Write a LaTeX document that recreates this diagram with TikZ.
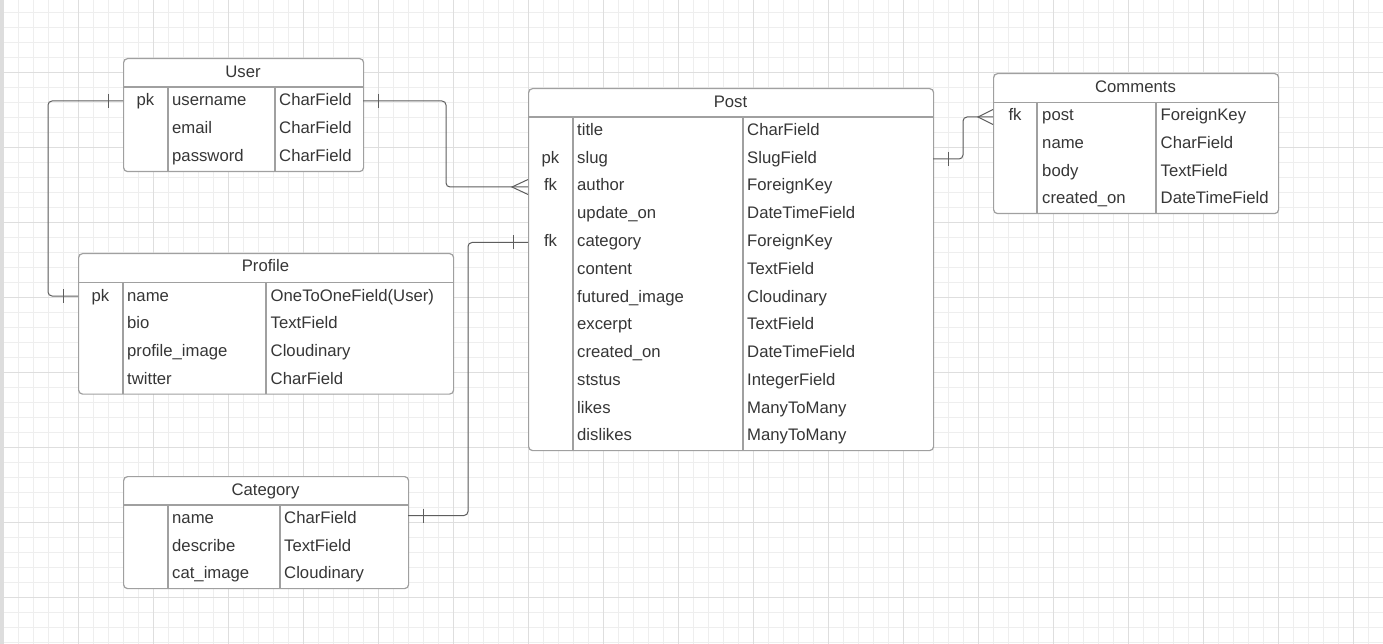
\documentclass[tikz,border=0pt]{standalone}
\usepackage{fontspec}
\setmainfont{Liberation Sans}
\definecolor{gridminor}{HTML}{EEEEEE}
\definecolor{gridmajor}{HTML}{DEDEDE}
\definecolor{leftbar}{HTML}{DDDDDD}
\definecolor{tblc}{HTML}{A0A0A0}
\definecolor{linec}{HTML}{5E5E5E}
\definecolor{txtc}{HTML}{363636}
\tikzset{
  tbl/.style={draw=tblc, line width=1.2pt, rounded corners=4pt, fill=white, inner sep=0pt, anchor=north west},
  tblline/.style={draw=tblc, line width=1.2pt},
  lbl/.style={text=txtc, font=\fontsize{16.7}{19}\selectfont, inner sep=0pt, anchor=base west},
  keylbl/.style={lbl, anchor=base},
  head/.style={lbl, anchor=base},
  conn/.style={draw=linec, line width=1pt, rounded corners=4pt},
  tick/.style={draw=linec, line width=1pt},
}
\begin{document}
\begin{tikzpicture}[x=1pt,y=-1pt]
\useasboundingbox (0,0) rectangle (1383,644);
% grid
\fill[white] (0,0) rectangle (1383,644);
\foreach \gx in {3.7,18.7,...,1383} \draw[gridminor, line width=0.8pt] (\gx,0) -- (\gx,644);
\foreach \gy in {12.3,27.3,...,644} \draw[gridminor, line width=0.8pt] (0,\gy) -- (1383,\gy);
\foreach \gx in {3.7,78.7,...,1383} \draw[gridmajor, line width=0.8pt] (\gx,0) -- (\gx,644);
\foreach \gy in {72.3,147.3,...,644} \draw[gridmajor, line width=0.8pt] (0,\gy) -- (1383,\gy);
\fill[leftbar] (0,0) rectangle (4,644);

% ---------- User ----------
\node[tbl, minimum width=240pt, minimum height=113pt] (user) at (123,58) {};
\draw[tblline] (123,87) -- (363,87);
\draw[tblline] (168,87) -- (168,171);
\draw[tblline] (275,87) -- (275,171);
\node[head] (user-h) at (243,78) {User};
\foreach \k/\n/\t [count=\i from 0] in {pk/username/CharField, /email/CharField, /password/CharField}{
  \node[keylbl] (user-k\i) at (145.5,{87+18.5+28*\i}) {\k};
  \node[lbl] (user-n\i) at (172,{87+18.5+28*\i}) {\n};
  \node[lbl] (user-t\i) at (279,{87+18.5+28*\i}) {\t};
}

% ---------- Post ----------
\node[tbl, minimum width=405pt, minimum height=362pt] (post) at (528,88) {};
\draw[tblline] (528,117) -- (933,117);
\draw[tblline] (573,117) -- (573,450);
\draw[tblline] (743,117) -- (743,450);
\node[head] (post-h) at (730.5,108) {Post};
\foreach \k/\n/\t [count=\i from 0] in {/title/CharField, pk/slug/SlugField, fk/author/ForeignKey, /update\_on/DateTimeField, fk/category/ForeignKey, /content/TextField, /futured\_image/Cloudinary, /excerpt/TextField, /created\_on/DateTimeField, /ststus/IntegerField, /likes/ManyToMany, /dislikes/ManyToMany}{
  \node[keylbl] (post-k\i) at (550.5,{117+18.5+27.75*\i}) {\k};
  \node[lbl] (post-n\i) at (577,{117+18.5+27.75*\i}) {\n};
  \node[lbl] (post-t\i) at (747,{117+18.5+27.75*\i}) {\t};
}

% ---------- Comments ----------
\node[tbl, minimum width=285pt, minimum height=140pt] (comments) at (993,73) {};
\draw[tblline] (993,102.5) -- (1278,102.5);
\draw[tblline] (1037,102.5) -- (1037,213);
\draw[tblline] (1156,102.5) -- (1156,213);
\node[head] (comments-h) at (1135.5,93) {Comments};
\foreach \k/\n/\t [count=\i from 0] in {fk/post/ForeignKey, /name/CharField, /body/TextField, /created\_on/DateTimeField}{
  \node[keylbl] (com-k\i) at (1015,{102.5+18.5+27.6*\i}) {\k};
  \node[lbl] (com-n\i) at (1042,{102.5+18.5+27.6*\i}) {\n};
  \node[lbl] (com-t\i) at (1160.5,{102.5+18.5+27.6*\i}) {\t};
}

% ---------- Profile ----------
\node[tbl, minimum width=375pt, minimum height=140.5pt] (profile) at (78,253) {};
\draw[tblline] (78,282.7) -- (453,282.7);
\draw[tblline] (123,282.7) -- (123,393.5);
\draw[tblline] (266,282.7) -- (266,393.5);
\node[head] (profile-h) at (265.5,272) {Profile};
\foreach \k/\n/\t [count=\i from 0] in {pk/name/OneToOneField(User), /bio/TextField, /profile\_image/Cloudinary, /twitter/CharField}{
  \node[keylbl] (prof-k\i) at (100.5,{282.7+18.5+27.7*\i}) {\k};
  \node[lbl] (prof-n\i) at (127,{282.7+18.5+27.7*\i}) {\n};
  \node[lbl] (prof-t\i) at (270.5,{282.7+18.5+27.7*\i}) {\t};
}

% ---------- Category ----------
\node[tbl, minimum width=285pt, minimum height=112pt] (category) at (123,476) {};
\draw[tblline] (123,505) -- (408,505);
\draw[tblline] (168,505) -- (168,588);
\draw[tblline] (280,505) -- (280,588);
\node[head] (category-h) at (265.5,495) {Category};
\foreach \n/\t [count=\i from 0] in {name/CharField, describe/TextField, cat\_image/Cloudinary}{
  \node[lbl] (cat-n\i) at (172,{505+18.5+27.7*\i}) {\n};
  \node[lbl] (cat-t\i) at (284,{505+18.5+27.7*\i}) {\t};
}

% ---------- connector end points ----------
\coordinate (userL) at (123,101);
\coordinate (userR) at (363,101);
\coordinate (profL) at (78,296);
\coordinate (postA) at (528,187);
\coordinate (postC) at (528,242.5);
\coordinate (postR) at (933,159);
\coordinate (comL)  at (993,117);
\coordinate (catR)  at (408,515.5);

% User -- Profile (one to one)
\draw[conn] (userL) -| ([xshift=-30pt]profL) -- (profL);
\draw[tick] ([xshift=-15pt]userL) ++(0,-7) -- ++(0,14);
\draw[tick] ([xshift=-15pt]profL) ++(0,-7) -- ++(0,14);

% User -- Post (one to many)
\draw[conn] (userR) -| ([xshift=-82pt]postA) -- (postA);
\draw[tick] ([xshift=15pt]userR) ++(0,-7) -- ++(0,14);
\draw[conn, rounded corners=0pt] ([yshift=7.5pt]postA) -- ([xshift=-16pt]postA) -- ([yshift=-7.5pt]postA);

% Category -- Post (one to many)
\draw[conn] (catR) -| ([xshift=-60pt]postC) -- (postC);
\draw[tick] ([xshift=15pt]catR) ++(0,-7) -- ++(0,14);
\draw[tick] ([xshift=-15pt]postC) ++(0,-7) -- ++(0,14);

% Post -- Comments (one to many)
\draw[conn] (postR) -| ([xshift=-30pt]comL) -- (comL);
\draw[tick] ([xshift=15pt]postR) ++(0,-7) -- ++(0,14);
\draw[conn, rounded corners=0pt] ([yshift=7.5pt]comL) -- ([xshift=-15pt]comL) -- ([yshift=-7.5pt]comL);
\end{tikzpicture}
\end{document}
